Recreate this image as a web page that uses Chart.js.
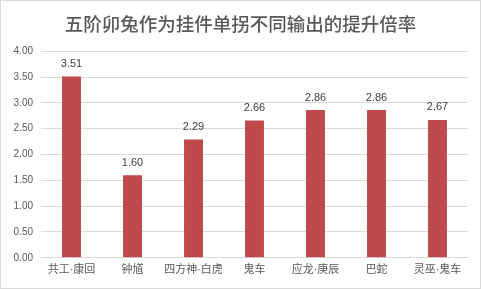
<!DOCTYPE html>
<html><head><meta charset="utf-8">
<script src="https://cdn.jsdelivr.net/npm/chart.js@4"></script>
<style>
html,body{margin:0;padding:0;background:#fff;}
#wrap{position:absolute;left:0;top:0;width:479px;height:287px;border:1px solid #d9d9d9;}
</style></head><body>
<div id="wrap"><canvas id="c" width="479" height="287"></canvas></div>
<script>
const categories = ['共工·康回','钟馗','四方神·白虎','鬼车','应龙·庚辰','巴蛇','灵巫·鬼车'];
const values = [3.51, 1.60, 2.29, 2.66, 2.86, 2.86, 2.67];
const titleText = '五阶卯兔作为挂件单拐不同输出的提升倍率';
const FONT = '"Liberation Sans", "Noto Sans CJK SC", sans-serif';

const labelPlugin = {
  id: 'vals',
  afterDatasetsDraw(chart) {
    const ctx = chart.ctx;
    const meta = chart.getDatasetMeta(0);
    ctx.save();
    ctx.fillStyle = '#404040';
    ctx.font = '11px "Liberation Sans", Arial, sans-serif';
    ctx.textAlign = 'center';
    ctx.textBaseline = 'bottom';
    meta.data.forEach((bar, i) => {
      ctx.fillText(values[i].toFixed(2), bar.x, bar.y - 7);
    });
    ctx.restore();
  }
};

new Chart(document.getElementById('c'), {
  type: 'bar',
  data: {
    labels: categories,
    datasets: [{ data: values, backgroundColor: '#c0494b', categoryPercentage: 1.0, barPercentage: 0.31 }]
  },
  options: {
    responsive: false,
    animation: false,
    layout: { padding: { left: 12, right: 12, top: 0, bottom: 5 } },
    plugins: {
      legend: { display: false },
      tooltip: { enabled: false },
      title: {
        display: true, text: titleText, color: '#595959',
        font: { family: '"Noto Sans CJK SC", sans-serif', size: 18.5, weight: 500 },
        padding: { top: 12, bottom: 16 }
      }
    },
    scales: {
      x: {
        grid: { display: false, drawTicks: false },
        border: { color: '#d9d9d9' },
        ticks: { color: '#595959', font: { family: FONT, size: 11 }, padding: 6, maxRotation: 0, autoSkip: false }
      },
      y: {
        min: 0, max: 4,
        afterFit: s => { s.width = 28; },
        grid: { color: '#d9d9d9', drawTicks: false },
        border: { display: false },
        ticks: { stepSize: 0.5, color: '#595959', font: { family: '"Liberation Sans", Arial, sans-serif', size: 10 }, padding: 8,
          callback: v => Number(v).toFixed(2) }
      }
    }
  },
  plugins: [labelPlugin]
});
</script>
</body></html>
